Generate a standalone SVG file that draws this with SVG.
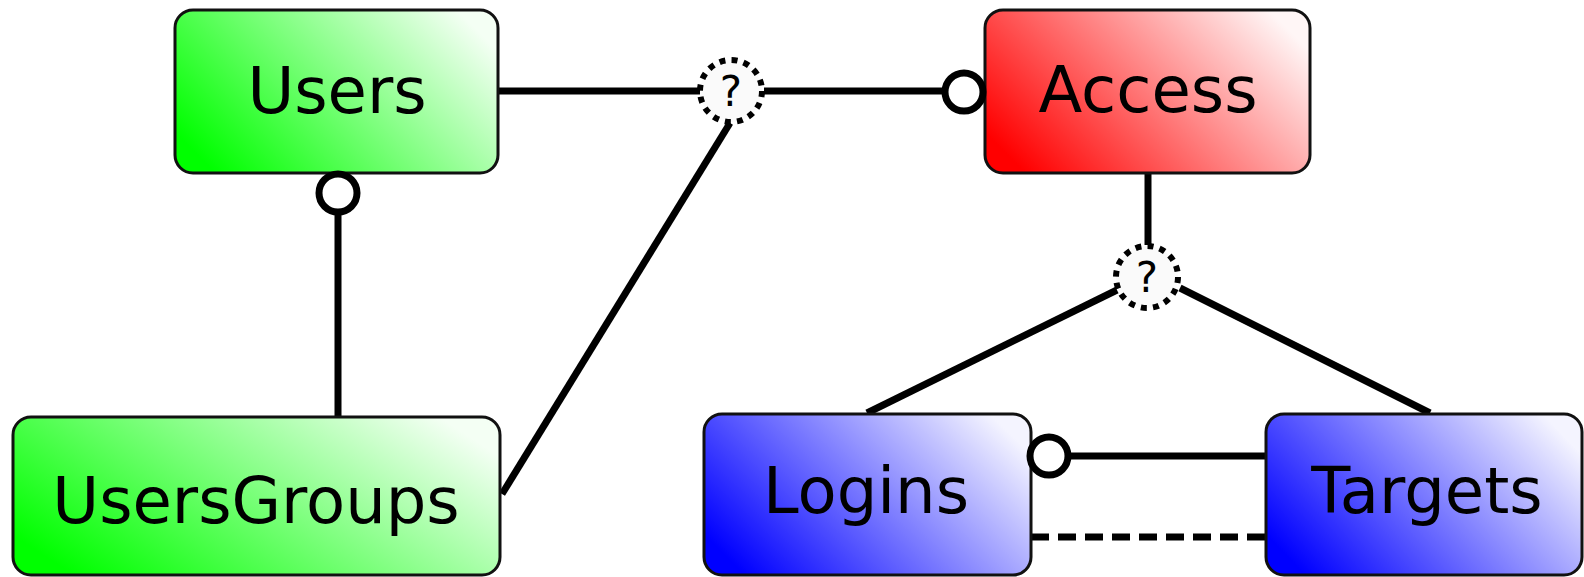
<svg xmlns="http://www.w3.org/2000/svg" width="1584" height="577" viewBox="0 0 1584 577">
<defs>
<linearGradient id="gGreen" x1="0" y1="0.75" x2="1" y2="0.25"><stop offset="0" stop-color="#00ff00"/><stop offset="1" stop-color="#f4fff4"/></linearGradient>
<linearGradient id="gRed" x1="0" y1="0.75" x2="1" y2="0.25"><stop offset="0" stop-color="#ff0000"/><stop offset="1" stop-color="#fff6f6"/></linearGradient>
<linearGradient id="gBlue" x1="0" y1="0.75" x2="1" y2="0.25"><stop offset="0" stop-color="#0000ff"/><stop offset="1" stop-color="#f4f4ff"/></linearGradient>
<style>
.box{stroke:#111;stroke-width:3}
.lbl{font-family:"DejaVu Sans","Liberation Sans",sans-serif;font-size:64px;fill:#000;text-anchor:middle}
.ln{stroke:#000;stroke-width:7;fill:none}
.dash{stroke:#000;stroke-width:7;fill:none;stroke-dasharray:18 9}
.opt{stroke:#000;stroke-width:7;fill:#fff}
.q{stroke:#000;stroke-width:6;fill:#fafafa;stroke-dasharray:6 6.2}
.qt{font-family:"DejaVu Sans","Liberation Sans",sans-serif;font-size:42px;fill:#000;text-anchor:middle}
</style>
</defs>
<rect width="1584" height="577" fill="#fff"/>
<g id="connectors">
<line class="ln" x1="498" y1="91" x2="700" y2="91"/>
<line class="ln" x1="764" y1="91" x2="945" y2="91"/>
<line class="ln" x1="730" y1="123" x2="502" y2="494"/>
<line class="ln" x1="338" y1="212" x2="338" y2="417"/>
<line class="ln" x1="1148" y1="173" x2="1148" y2="245"/>
<line class="ln" x1="1117" y1="290" x2="867" y2="413"/>
<line class="ln" x1="1180" y1="288" x2="1430" y2="413"/>
<line class="ln" x1="1068" y1="456" x2="1266" y2="456"/>
<line class="dash" x1="1031" y1="537" x2="1266" y2="537"/>
</g>
<g id="users">
<rect class="box" x="175" y="10" width="323" height="163" rx="18" fill="url(#gGreen)"/>
<text class="lbl" x="337" y="113">Users</text>
</g>
<g id="usersgroups">
<rect class="box" x="13" y="417" width="487" height="158" rx="18" fill="url(#gGreen)"/>
<text class="lbl" x="256" y="523">UsersGroups</text>
</g>
<g id="access">
<rect class="box" x="985" y="10" width="325" height="163" rx="18" fill="url(#gRed)"/>
<text class="lbl" x="1148" y="112">Access</text>
</g>
<g id="logins">
<rect class="box" x="704" y="414" width="327" height="161" rx="18" fill="url(#gBlue)"/>
<text class="lbl" x="866" y="513">Logins</text>
</g>
<g id="targets">
<rect class="box" x="1266" y="414" width="316" height="161" rx="18" fill="url(#gBlue)"/>
<text class="lbl" x="1427" y="513">Targets</text>
</g>
<g id="markers">
<circle class="opt" cx="338" cy="193" r="19"/>
<circle class="opt" cx="964" cy="92" r="19"/>
<circle class="opt" cx="1049" cy="456" r="19"/>
</g>
<g id="q1">
<circle class="q" cx="731" cy="91" r="31"/>
<text class="qt" x="731" y="106">?</text>
</g>
<g id="q2">
<circle class="q" cx="1147" cy="277" r="31"/>
<text class="qt" x="1147" y="292">?</text>
</g>
</svg>
